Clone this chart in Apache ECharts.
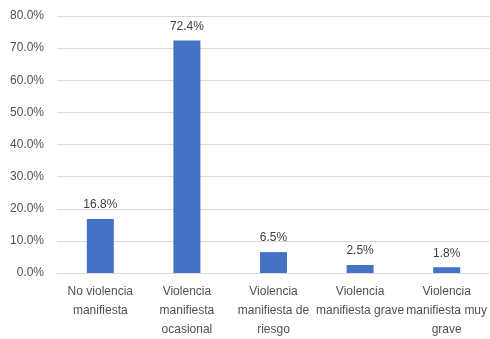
<!DOCTYPE html>
<html>
<head>
<meta charset="utf-8">
<script src="https://cdn.jsdelivr.net/npm/echarts@6/dist/echarts.min.js"></script>
<style>
  html, body { margin: 0; padding: 0; background: #fff; }
  #chart { width: 490px; height: 339px; }
</style>
</head>
<body>
<div id="chart"></div>
<script>
// Categories of manifest violence and their share of cases (%)
const categories = [
  'No violencia\nmanifiesta',
  'Violencia\nmanifiesta\nocasional',
  'Violencia\nmanifiesta de\nriesgo',
  'Violencia\nmanifiesta grave',
  'Violencia\nmanifiesta muy\ngrave'
];
const shares = [16.8, 72.4, 6.5, 2.5, 1.8];
const yTicks = { min: 0, max: 80, interval: 10 };

const fontFamily = '"Liberation Sans", Arial, sans-serif';

const chart = echarts.init(document.getElementById('chart'), null, { renderer: 'canvas' });
chart.setOption({
  animation: false,
  grid: { left: 57, top: 16, width: 434, height: 259, containLabel: false },
  xAxis: {
    type: 'category',
    data: categories,
    axisTick: { show: false },
    axisLine: { lineStyle: { color: '#d9d9d9', width: 1 } },
    axisLabel: {
      color: '#505050',
      fontSize: 12,
      fontFamily: fontFamily,
      lineHeight: 19,
      margin: 9,
      interval: 0
    }
  },
  yAxis: {
    type: 'value',
    min: yTicks.min,
    max: yTicks.max,
    interval: yTicks.interval,
    axisLine: { show: false },
    axisTick: { show: false },
    splitLine: { lineStyle: { color: '#d9d9d9', width: 1 } },
    axisLabel: {
      color: '#505050',
      fontSize: 12,
      fontFamily: fontFamily,
      margin: 13,
      formatter: v => v.toFixed(1) + '%'
    }
  },
  series: [{
    type: 'bar',
    data: shares,
    barWidth: 27,
    itemStyle: { color: '#4472c4' },
    label: {
      show: true,
      position: 'top',
      distance: 8,
      color: '#404040',
      fontSize: 12,
      fontFamily: fontFamily,
      formatter: p => p.value.toFixed(1) + '%'
    }
  }]
});
</script>
</body>
</html>
